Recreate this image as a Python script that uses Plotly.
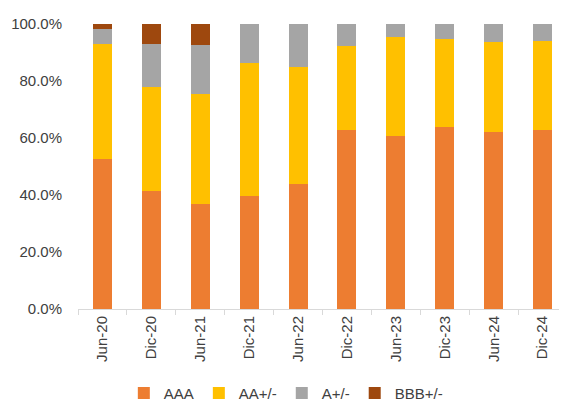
import plotly.graph_objects as go

categories = ["Jun-20", "Dic-20", "Jun-21", "Dic-21", "Jun-22",
              "Dic-22", "Jun-23", "Dic-23", "Jun-24", "Dic-24"]
aaa = [52.7, 41.3, 36.7, 39.5, 44.0, 62.9, 60.8, 64.0, 62.1, 62.9]
aa = [40.4, 36.6, 38.9, 46.7, 40.8, 29.3, 34.6, 30.9, 31.5, 31.1]
a = [5.1, 15.1, 17.1, 13.8, 15.2, 7.8, 4.6, 5.1, 6.4, 6.0]
bbb = [1.8, 7.0, 7.3, 0.0, 0.0, 0.0, 0.0, 0.0, 0.0, 0.0]
y_ticks = [0, 0.2, 0.4, 0.6, 0.8, 1.0]

series = [("AAA", aaa, "#ED7D31"), ("AA+/-", aa, "#FFC000"),
          ("A+/-", a, "#A5A5A5"), ("BBB+/-", bbb, "#9E480E")]

fig = go.Figure()
for name, vals, color in series:
    fig.add_trace(go.Bar(
        x=categories, y=[v / 100 for v in vals], name=name,
        marker=dict(color=color, line=dict(width=0)),
    ))

# page body has an 8px margin: figure sized/offset to compensate
fig.update_layout(
    barmode="stack",
    bargap=0.61,
    width=559, height=393,
    margin=dict(l=70, r=0, t=16, b=92, autoexpand=False),
    paper_bgcolor="white", plot_bgcolor="white",
    font=dict(family="Liberation Sans, Arial, sans-serif", size=15, color="#404040"),
    legend=dict(orientation="h", x=0.425, xanchor="center",
                yref="container", y=0.02, yanchor="middle", font=dict(size=15),
                traceorder="normal", itemclick=False),
    showlegend=True,
)
fig.update_yaxes(range=[0, 1], tickvals=y_ticks, tickformat=".1%",
                 showgrid=False, zeroline=False, showline=False,
                 ticks="", ticklabelstandoff=15)
fig.update_xaxes(type="category", tickangle=-90, showgrid=False,
                 showline=True, linecolor="#D9D9D9", linewidth=1,
                 ticks="outside", tickson="boundaries", ticklen=5,
                 tickcolor="#D9D9D9", range=[-0.5, 9.5])

fig.write_html("out.html")
